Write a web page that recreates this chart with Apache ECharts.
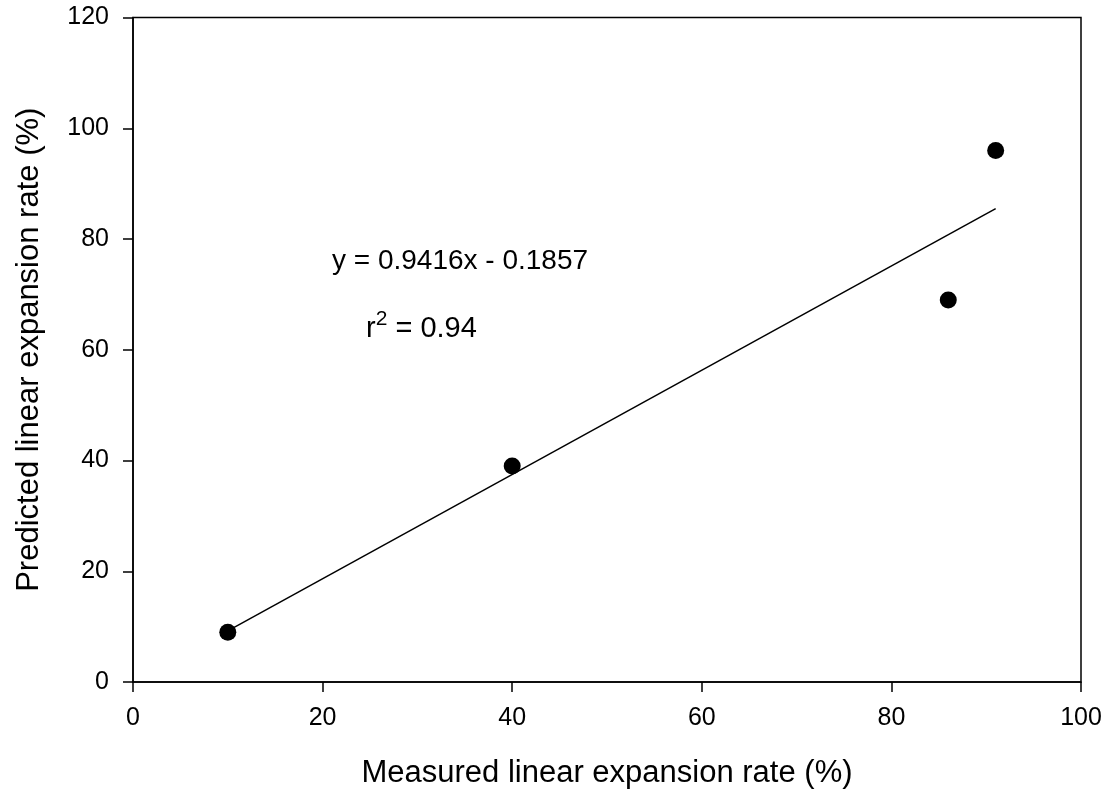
<!DOCTYPE html>
<html>
<head>
<meta charset="utf-8">
<script src="https://cdn.jsdelivr.net/npm/echarts@6/dist/echarts.min.js"></script>
<style>
html,body{margin:0;padding:0;background:#fff;}
#chart{width:1110px;height:796px;}
</style>
</head>
<body>
<div id="chart"></div>
<script>
// Data
const measured = [10, 40, 86, 91];
const predicted = [9, 39, 69, 96];
// Regression fit as printed on the chart
const fitSlope = 0.9416;
const fitIntercept = -0.1857;
const fitRange = [10, 91];
const equationText = 'y = 0.9416x - 0.1857';
const r2Value = '0.94';
const xTitle = 'Measured linear expansion rate (%)';
const yTitle = 'Predicted linear expansion rate (%)';

const points = measured.map((x, i) => [x, predicted[i]]);
const fitLine = fitRange.map(x => [x, fitSlope * x + fitIntercept]);

const FONT = '"Liberation Sans", Arial, sans-serif';
const chart = echarts.init(document.getElementById('chart'));
const axisCommon = {
  axisLine: {show: true, onZero: false, lineStyle: {color: '#000', width: 1.5}},
  axisTick: {show: true, inside: false, length: 10, lineStyle: {color: '#000', width: 1.5}},
  splitLine: {show: false},
  nameLocation: 'middle'
};
chart.setOption({
  animation: false,
  backgroundColor: '#fff',
  grid: {left: 133, right: 29, top: 17.5, bottom: 114, show: true, borderColor: '#000', borderWidth: 1.5, containLabel: false},
  xAxis: Object.assign({}, axisCommon, {
    type: 'value', min: 0, max: 100, interval: 20,
    axisLabel: {color: '#000', fontSize: 25, fontFamily: FONT, margin: 24},
    name: xTitle, nameGap: 76,
    nameTextStyle: {color: '#000', fontSize: 31, fontFamily: FONT}
  }),
  yAxis: Object.assign({}, axisCommon, {
    type: 'value', min: 0, max: 120, interval: 20,
    axisLabel: {color: '#000', fontSize: 25, fontFamily: FONT, margin: 24},
    name: yTitle, nameGap: 88,
    nameTextStyle: {color: '#000', fontSize: 31, fontFamily: FONT}
  }),
  series: [
    {
      type: 'line', data: fitLine, symbol: 'none',
      lineStyle: {color: '#000', width: 1.5}, z: 2
    },
    {
      type: 'scatter', data: points, symbol: 'circle', symbolSize: 17,
      itemStyle: {color: '#000', opacity: 1}, z: 3
    }
  ],
  graphic: [
    {
      type: 'text', left: 332, top: 247,
      style: {text: equationText, font: '28px ' + FONT, fill: '#000'}
    },
    {
      type: 'text', left: 366, top: 309,
      style: {
        text: '{a|r}{b|2}{a| = ' + r2Value + '}',
        rich: {
          a: {fontSize: 29, fontFamily: FONT, fill: '#000', color: '#000', verticalAlign: 'bottom', lineHeight: 34},
          b: {fontSize: 21, fontFamily: FONT, fill: '#000', color: '#000', verticalAlign: 'top', lineHeight: 34}
        }
      }
    }
  ]
});
</script>
</body>
</html>
